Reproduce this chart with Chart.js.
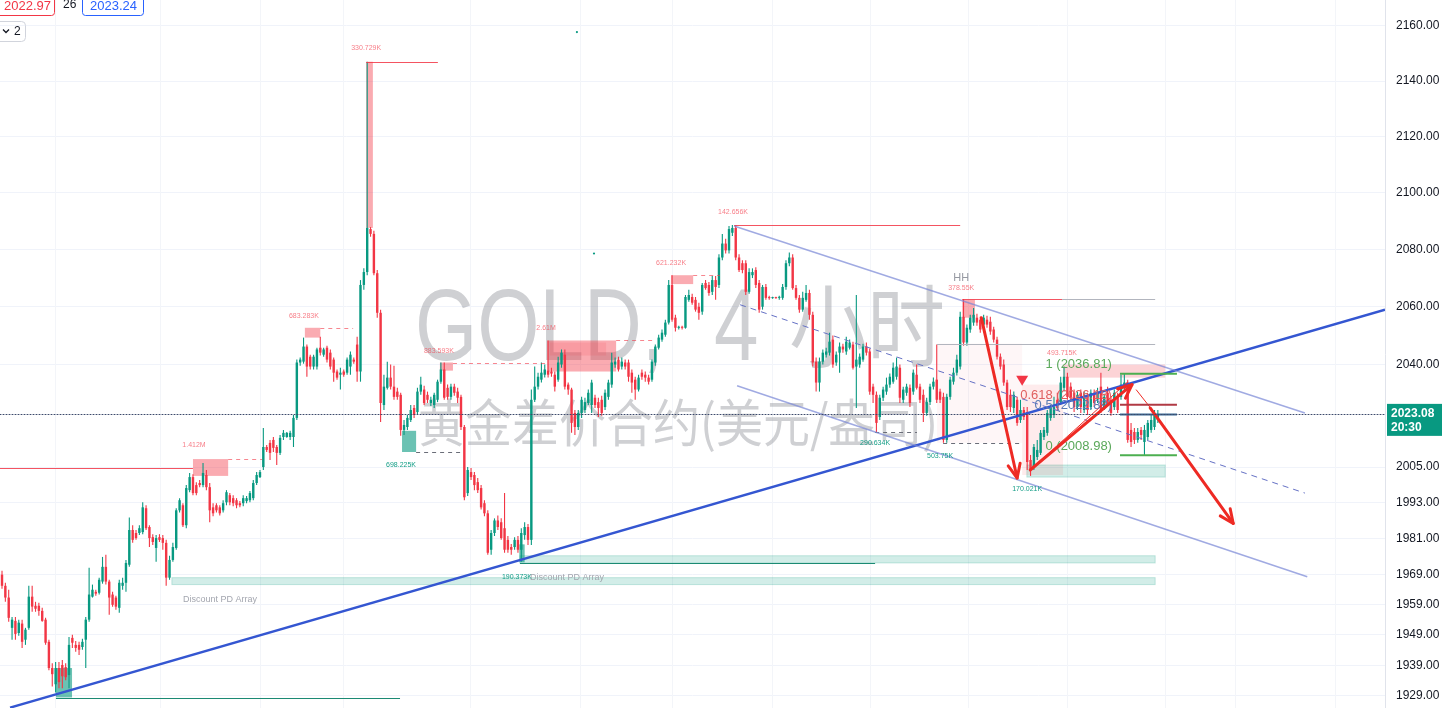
<!DOCTYPE html>
<html><head><meta charset="utf-8">
<script src="https://cdn.jsdelivr.net/npm/chart.js@4.4.1/dist/chart.umd.min.js"></script>
<style>html,body{margin:0;padding:0;background:#fff;overflow:hidden}#wrap{width:1448px;height:708px;position:relative}</style>
</head><body><div id="wrap"><canvas id="c"></canvas></div>
<script>
// ---------- DATA (4H candles, index = bar number) ----------
const opens = [
1968.9,1965.2,1961.3,1951.3,1953.6,1949.6,1952.7,1947.4,1951.3,1961.6,
1958.6,1958.6,1956.9,1954.0,1946.7,1938.1,1932.8,1938.1,1939.1,1938.4,
1935.8,1948.0,1945.7,1945.7,1945.0,1947.4,1954.0,1961.6,1963.2,1962.9,
1966.6,1971.5,1966.6,1962.3,1961.3,1957.9,1965.2,1966.2,1972.2,1983.8,
1982.8,1982.8,1983.1,1991.1,1984.8,1981.4,1977.8,1981.4,1981.1,1979.5,
1967.9,1973.8,1977.8,1990.4,1992.1,1985.4,1997.2,2001.6,1998.9,1999.6,
1998.9,2002.3,1998.2,1991.4,1992.1,1991.4,1990.4,1993.1,1995.5,1994.5,
1993.8,1992.8,1992.8,1993.5,1993.8,1994.5,1999.6,2001.6,2005.0,2011.8,
2013.2,2014.2,2011.8,2009.8,2015.2,2015.2,2015.2,2015.2,2021.7,2040.7,
2041.0,2046.2,2042.7,2039.3,2039.3,2045.8,2043.4,2045.8,2044.1,2041.7,
2037.6,2036.5,2037.6,2037.2,2039.3,2041.7,2046.9,2037.6,2067.6,2072.1,
2087.2,2085.5,2071.7,2057.9,2026.1,2032.0,2035.5,2032.4,2030.7,2029.6,
2017.6,2018.6,2021.0,2025.1,2023.7,2030.7,2031.4,2029.6,2026.8,2026.1,
2027.9,2034.1,2038.3,2032.0,2028.9,2032.4,2030.7,2028.9,2018.6,1996.2,
2003.3,2002.3,1999.9,1997.9,1992.8,1989.4,1977.2,1982.8,1987.0,1986.4,
1984.4,1980.5,1978.1,1978.1,1980.5,1977.2,1982.1,1984.8,1980.5,2027.9,
2032.4,2034.8,2036.5,2037.9,2037.6,2036.5,2034.8,2040.0,2043.4,2033.1,
2031.4,2023.4,2018.6,2023.4,2024.4,2026.8,2026.1,2028.6,2027.1,2027.9,
2025.4,2028.9,2033.1,2040.0,2041.7,2039.3,2040.7,2040.7,2037.2,2034.8,
2031.4,2037.2,2036.5,2035.5,2034.8,2040.7,2045.8,2048.6,2050.3,2054.5,
2067.6,2056.2,2052.7,2052.8,2052.7,2062.4,2063.4,2062.4,2060.0,2058.3,
2068.3,2067.6,2065.2,2069.3,2067.6,2077.2,2082.1,2079.7,2085.9,2087.6,
2077.2,2075.2,2075.2,2065.2,2071.0,2072.8,2068.3,2060.0,2066.9,2063.1,
2063.0,2063.1,2063.1,2063.1,2066.9,2075.2,2077.2,2066.5,2063.1,2059.0,
2062.4,2064.8,2057.2,2041.0,2033.8,2041.0,2043.4,2044.1,2048.6,2040.7,
2044.1,2046.2,2044.5,2045.8,2046.9,2039.3,2040.0,2041.7,2046.2,2044.5,
2032.4,2029.6,2022.0,2028.6,2030.7,2033.1,2034.1,2035.8,2038.9,2027.9,
2030.3,2032.0,2030.7,2036.5,2032.4,2029.6,2023.4,2027.1,2032.4,2034.8,
2030.7,2028.9,2014.2,2028.9,2034.1,2037.2,2039.3,2056.5,2047.6,2052.1,
2054.5,2056.2,2055.5,2053.8,2055.5,2054.8,2052.1,2048.6,2042.7,2040.0,
2033.8,2029.6,2025.1,2027.9,2021.0,2024.4,2023.7,2007.4,2005.0,2008.4,
2009.8,2015.2,2016.6,2021.7,2022.7,2027.9,2027.1,2032.0,2035.8,2032.4,
2030.3,2025.4,2030.3,2024.4,2028.9,2025.4,2030.3,2027.9,2032.4,2025.4,
2030.3,2027.9,2025.4,2028.9,2028.9,2032.0,2033.8,2017.6,2016.9,2014.2,
2017.6,2013.5,2015.2,2017.6,2018.6,2021.0];
const highs = [
1970.2,1966.2,1963.9,1954.9,1954.9,1954.0,1954.0,1951.3,1965.2,1965.2,
1959.9,1959.6,1957.9,1954.6,1947.4,1939.7,1940.1,1940.1,1940.7,1939.7,
1948.3,1949.0,1947.0,1946.7,1947.7,1954.9,1971.2,1965.6,1963.9,1967.9,
1974.8,1975.5,1967.2,1963.2,1961.9,1967.2,1967.9,1973.8,1988.0,1985.4,
1983.8,1985.4,1993.1,1992.1,1985.4,1982.4,1982.1,1982.4,1982.1,1980.5,
1975.2,1979.5,1991.1,1994.5,1992.8,1998.9,2003.0,2002.6,1999.9,2000.6,
2006.4,2004.0,1999.6,1992.8,1992.8,1992.1,1993.8,1997.2,1996.2,1995.5,
1994.5,1993.5,1995.5,1995.2,1996.9,2000.6,2003.3,2004.0,2018.3,2012.5,
2014.2,2015.2,2012.5,2015.9,2017.6,2016.9,2017.3,2022.7,2041.7,2042.4,
2049.3,2046.9,2043.4,2043.4,2045.8,2049.6,2045.8,2046.5,2045.2,2042.4,
2038.3,2038.9,2038.3,2042.4,2044.5,2042.4,2049.6,2069.3,2073.4,2147.0,
2087.9,2086.6,2072.8,2059.0,2036.5,2041.0,2040.0,2039.6,2032.0,2030.3,
2021.0,2022.7,2026.1,2026.1,2032.0,2035.8,2032.7,2030.7,2028.9,2030.3,
2034.8,2040.7,2040.7,2033.1,2033.4,2033.4,2032.0,2029.6,2019.3,2005.0,
2004.7,2003.3,2001.3,1998.9,1993.8,1990.4,1983.8,1987.7,1988.7,1987.7,
1996.2,1981.8,1979.1,1981.4,1981.8,1984.4,1986.4,1985.8,2031.4,2039.3,
2037.2,2040.7,2040.0,2048.3,2038.9,2037.6,2042.7,2045.2,2045.2,2033.8,
2032.0,2024.4,2024.4,2028.9,2028.6,2031.4,2034.8,2029.6,2028.6,2029.3,
2031.4,2034.8,2044.1,2042.4,2042.7,2042.4,2041.7,2041.7,2038.3,2035.8,
2036.5,2038.3,2037.6,2036.5,2041.7,2046.9,2050.3,2052.1,2055.5,2069.3,
2071.0,2057.2,2053.4,2053.4,2064.1,2065.9,2064.5,2063.4,2061.4,2068.3,
2069.3,2068.6,2070.7,2070.7,2078.3,2085.5,2083.8,2088.3,2088.6,2088.6,
2078.3,2076.2,2076.2,2073.4,2073.4,2073.8,2069.3,2067.6,2067.9,2063.8,
2063.5,2063.5,2063.8,2067.9,2076.2,2079.0,2078.3,2067.6,2064.1,2065.2,
2067.6,2065.9,2058.3,2042.4,2042.4,2045.2,2045.8,2051.0,2050.0,2044.5,
2047.6,2047.2,2049.6,2048.6,2047.9,2064.1,2043.8,2047.2,2047.6,2045.5,
2033.4,2030.7,2029.6,2032.4,2035.5,2036.9,2040.7,2042.4,2040.0,2032.4,
2033.4,2033.1,2038.3,2040.0,2033.4,2031.4,2028.6,2033.4,2035.5,2046.9,
2031.7,2030.3,2030.0,2035.8,2038.9,2043.4,2058.3,2062.7,2053.8,2057.2,
2059.6,2057.6,2056.5,2057.2,2056.9,2056.5,2053.1,2049.6,2043.8,2041.7,
2034.8,2031.4,2030.7,2028.9,2027.9,2025.4,2025.4,2009.1,2012.8,2014.2,
2017.6,2018.6,2024.4,2026.1,2028.9,2030.3,2035.8,2039.3,2037.2,2033.8,
2031.4,2030.7,2031.4,2030.7,2030.3,2031.4,2031.4,2032.0,2037.2,2030.0,
2032.4,2028.9,2031.4,2030.3,2036.5,2036.81,2034.8,2020.0,2018.3,2018.3,
2018.6,2019.3,2021.0,2022.7,2024.4,2024.4];
const lows = [
1964.2,1959.9,1953.3,1947.4,1947.4,1948.7,1944.7,1945.7,1950.7,1956.6,
1956.6,1955.3,1953.3,1945.7,1937.4,1932.1,1930.1,1931.5,1931.5,1934.1,
1931.5,1944.7,1943.4,1942.4,1944.1,1938.1,1953.3,1961.3,1961.9,1962.3,
1965.9,1965.6,1955.6,1958.3,1957.3,1956.3,1963.9,1963.2,1971.5,1979.5,
1980.5,1982.1,1982.4,1983.8,1978.1,1978.8,1973.2,1979.8,1977.2,1965.2,
1967.2,1973.2,1977.2,1989.7,1984.8,1984.4,1996.5,1995.5,1995.5,1998.2,
1998.2,1997.2,1986.4,1988.4,1989.7,1988.7,1989.7,1992.1,1992.1,1991.8,
1991.1,1991.4,1991.8,1992.8,1993.1,1993.8,1998.9,2001.3,2004.0,2010.1,
2007.4,2010.1,2005.7,2009.1,2014.2,2014.9,2014.2,2011.8,2021.0,2039.6,
2040.3,2035.8,2038.3,2038.3,2038.3,2043.1,2042.7,2040.7,2038.3,2034.1,
2034.8,2031.4,2035.8,2036.5,2036.5,2040.3,2034.1,2034.1,2065.9,2071.0,
2084.5,2071.0,2056.2,2020.3,2024.4,2031.4,2031.4,2027.9,2027.9,2015.6,
2015.9,2017.6,2020.3,2021.7,2023.0,2029.6,2026.1,2026.8,2025.8,2025.1,
2027.1,2033.4,2027.9,2027.9,2027.9,2029.3,2026.8,2017.6,1993.8,1995.2,
2000.6,1997.2,1996.2,1990.7,1988.4,1975.5,1975.5,1981.8,1983.8,1980.5,
1976.2,1976.2,1975.5,1977.2,1976.2,1973.2,1980.5,1978.8,1978.8,2027.1,
2031.4,2033.8,2035.5,2035.5,2035.8,2030.7,2034.1,2038.9,2031.4,2029.6,
2016.6,2015.9,2017.6,2021.7,2023.4,2026.1,2023.4,2025.1,2022.0,2022.4,
2024.4,2027.9,2032.0,2038.9,2037.6,2038.3,2038.3,2034.1,2030.3,2027.9,
2030.7,2034.8,2034.1,2033.1,2034.1,2039.6,2045.2,2047.9,2049.6,2053.8,
2054.8,2051.4,2052.1,2052.1,2052.4,2061.7,2060.7,2058.3,2055.5,2057.2,
2065.9,2063.8,2064.1,2062.4,2066.5,2076.2,2078.6,2078.6,2084.8,2076.2,
2072.1,2071.7,2064.1,2064.5,2070.0,2066.5,2057.9,2059.0,2062.4,2062.4,
2062.8,2062.8,2062.4,2062.4,2065.9,2074.1,2065.9,2062.4,2057.9,2058.3,
2061.7,2055.5,2039.3,2030.7,2030.7,2040.0,2042.4,2043.1,2038.9,2039.6,
2037.2,2044.1,2043.4,2045.2,2038.3,2025.1,2038.9,2041.0,2043.1,2029.6,
2026.8,2016.9,2021.0,2027.5,2029.6,2032.0,2033.4,2034.8,2026.8,2026.8,
2029.3,2025.4,2029.6,2031.4,2026.8,2020.3,2022.4,2026.1,2031.4,2026.8,
2026.8,2013.2,2013.2,2027.9,2033.1,2036.2,2038.3,2046.5,2046.5,2051.0,
2053.4,2053.4,2051.0,2052.7,2052.7,2050.3,2047.6,2041.7,2038.3,2032.7,
2024.4,2023.7,2023.4,2019.0,2020.0,2021.0,2004.0,2002.0,2004.0,2007.4,
2009.1,2014.2,2015.6,2020.7,2021.7,2024.1,2026.1,2030.7,2027.9,2027.5,
2023.7,2024.4,2023.4,2023.4,2022.7,2024.4,2025.4,2026.8,2023.4,2024.4,
2025.8,2022.4,2024.4,2023.4,2027.9,2031.0,2013.2,2011.8,2012.8,2013.2,
2014.2,2008.98,2014.2,2016.6,2017.6,2020.0];
const closes = [
1965.2,1961.3,1954.6,1954.0,1949.3,1953.0,1946.7,1950.7,1961.6,1958.3,
1957.6,1956.9,1953.6,1946.4,1938.1,1936.1,1938.1,1933.5,1935.4,1935.1,
1945.7,1946.4,1944.7,1944.1,1946.7,1954.0,1962.3,1963.9,1962.6,1967.2,
1971.5,1966.6,1961.3,1958.9,1958.3,1966.2,1966.2,1972.8,1983.8,1980.5,
1981.1,1984.4,1991.4,1984.4,1981.1,1979.8,1981.1,1980.5,1979.5,1967.9,
1973.8,1978.1,1990.4,1993.8,1985.4,1997.9,2001.6,1996.2,1996.2,1998.9,
2003.0,1998.2,1990.4,1989.4,1990.4,1989.4,1992.8,1996.5,1993.1,1992.8,
1992.1,1992.1,1994.5,1994.5,1996.2,1999.6,2002.3,2003.3,2011.8,2010.8,
2009.8,2011.5,2009.8,2014.9,2016.6,2016.6,2016.6,2021.7,2040.7,2041.7,
2046.2,2039.3,2039.3,2042.7,2045.2,2044.1,2045.2,2041.7,2039.3,2037.2,
2035.5,2037.2,2036.5,2041.7,2043.4,2041.0,2037.6,2067.6,2072.1,2087.6,
2085.5,2071.7,2057.9,2026.8,2032.4,2035.5,2032.4,2028.9,2028.9,2017.6,
2019.3,2021.7,2024.4,2022.7,2030.7,2033.1,2026.8,2027.9,2027.9,2029.6,
2034.1,2038.3,2028.6,2028.9,2032.4,2030.3,2028.6,2018.6,1994.8,2004.0,
2001.6,1998.9,1997.2,1991.4,1989.4,1976.2,1982.8,1987.0,1984.8,1981.1,
1977.2,1977.2,1977.2,1980.5,1977.2,1982.8,1984.8,1980.5,2027.9,2032.4,
2035.8,2037.2,2038.3,2036.5,2036.9,2032.4,2040.7,2044.1,2032.4,2031.4,
2020.0,2018.6,2023.4,2027.9,2027.1,2030.3,2033.8,2026.1,2025.1,2023.4,
2030.3,2033.8,2040.7,2041.0,2038.3,2041.0,2039.3,2035.8,2033.8,2031.4,
2035.5,2035.8,2035.5,2034.1,2041.0,2046.2,2049.3,2051.0,2054.5,2067.6,
2055.5,2052.7,2052.8,2052.7,2063.4,2064.1,2061.4,2059.0,2057.9,2067.6,
2066.5,2064.8,2069.3,2066.9,2077.2,2082.1,2079.7,2087.2,2087.6,2077.2,
2072.8,2072.8,2065.2,2072.1,2072.1,2067.6,2059.0,2066.9,2063.1,2063.0,
2063.2,2063.0,2063.1,2066.9,2075.2,2077.2,2066.5,2063.1,2059.0,2063.1,
2064.8,2057.2,2040.7,2033.8,2041.0,2044.1,2044.5,2047.9,2040.0,2043.4,
2046.2,2045.2,2047.9,2047.6,2038.9,2041.7,2042.7,2046.2,2044.1,2030.7,
2029.6,2020.0,2028.6,2031.4,2033.1,2035.8,2038.9,2039.3,2028.6,2031.4,
2032.4,2026.8,2037.2,2032.0,2027.9,2023.4,2027.1,2032.4,2034.1,2027.9,
2027.9,2014.2,2028.9,2034.8,2037.2,2041.7,2056.5,2047.6,2052.7,2056.2,
2057.2,2054.5,2052.1,2056.2,2053.8,2051.4,2048.6,2042.7,2039.3,2033.8,
2025.4,2025.4,2029.6,2020.0,2024.4,2022.0,2006.7,2004.0,2011.8,2010.8,
2016.6,2017.6,2023.4,2025.1,2025.4,2025.1,2033.8,2035.8,2028.9,2028.6,
2025.4,2029.6,2025.4,2029.6,2024.4,2030.3,2026.8,2030.7,2024.4,2028.9,
2026.8,2023.4,2030.3,2024.4,2033.1,2033.8,2014.2,2013.5,2014.2,2016.9,
2015.9,2017.6,2020.0,2021.0,2023.4,2023.08];

const yTickValues = [2160,2140,2120,2100,2080,2060,2040,2005,1993,1981,1969,1959,1949,1939,1929];
const lastPrice = 2023.08, lastTime = '20:30';
const bidText = '2022.97', spreadText = '26', askText = '2023.24', intervalBadge = '2';
const symbolTitle = ['GOLD,', '4', '小时'];
const symbolDesc = '黄金差价合约(美元/盎司)';

// ---------- DRAWINGS (bar index, price) ----------
const boxes = [
  [57.0, 67.5, 2007.7, 2002.0, 'pink'],
  [90.4, 95.0, 2052.7, 2049.3, 'pink'],
  [108.7, 110.7, 2147.0, 2087.6, 'pink'],
  [130.7, 134.6, 2040.7, 2037.9, 'pink'],
  [119.4, 123.6, 2017.3, 2010.1, 'teal'],
  [162.7, 183.3, 2048.3, 2037.6, 'pink'],
  [163.5, 180.3, 2047.6, 2043.1, 'pinkSoft'],
  [199.7, 206.3, 2071.0, 2067.9, 'pink'],
  [286.6, 290.4, 2062.4, 2056.2, 'pink'],
  [316.7, 347.2, 2040.0, 2035.5, 'pinkLight'],
  [154.4, 156.0, 1979.0, 1973.0, 'teal'],
  [16.1, 20.9, 1938.1, 1928.5, 'teal'],
  [305.9, 347.2, 2005.7, 2001.6, 'tealLight'],
  [50.7, 344.2, 1967.9, 1965.6, 'tealLight'],
  [154.6, 344.2, 1975.2, 1972.8, 'tealLight'],
  [304.5, 316.7, 2033.1, 2002.3, 'shade'],
  [279.1, 304.5, 2047.2, 2013.2, 'shadeFaint']
];
const hLines = [
  [-0.6, 57.0, 2004.7, 'red'],
  [108.7, 130.1, 2147.0, 'red'],
  [218.5, 286.0, 2088.6, 'red'],
  [286.6, 316.4, 2062.7, 'red'],
  [316.4, 344.2, 2062.7, 'gray'],
  [279.1, 344.2, 2047.2, 'gray'],
  [154.6, 260.6, 1972.8, 'tealLine'],
  [16.1, 118.8, 1928.2, 'tealLine'],
  [67.5, 77.6, 2007.7, 'redDash'],
  [95.0, 104.8, 2052.7, 'redDash'],
  [134.6, 162.7, 2040.7, 'redDash'],
  [183.3, 194.3, 2048.3, 'redDash'],
  [206.3, 214.3, 2071.0, 'redDash'],
  [123.6, 137.0, 2010.1, 'grayDash'],
  [260.6, 273.1, 2016.9, 'grayDash'],
  [280.9, 303.9, 2013.2, 'grayDash']
];
const trendLines = [
  [2.4, 1925.2, 412.8, 2059.0, 'trend'],
  [218.5, 2088.3, 388.9, 2023.4, 'channel'],
  [219.4, 2032.7, 389.6, 1968.2, 'channel'],
  [220.3, 2060.7, 388.9, 1996.2, 'channelMid'],
  [306.9, 2004.0, 336.0, 2034.0, 'thinRed'],
  [338.5, 2031.4, 343.3, 2024.4, 'thinRed']
];
const arrows = [
  [292.3, 2056.2, 303.0, 2001.3],
  [306.9, 2004.0, 337.3, 2033.1],
  [342.7, 2025.1, 367.5, 1986.0]
];
const fibLevels = [1, 0.618, 0.5, 0];
const fibPrices = [2036.81, 2026.18, 2022.89, 2008.98];
const fibSpan = [333.7, 350.7];
const fibLabelX = 331.3;
const textLabels = [
  ['1.412M', 57.3, 2012.5, 'pinkTxt'],
  ['683.283K', 90.1, 2056.9, 'pinkTxt'],
  ['330.729K', 108.7, 2152.0, 'pinkTxt'],
  ['883.593K', 130.4, 2044.5, 'pinkTxt'],
  ['698.225K', 119.1, 2005.7, 'greenTxt'],
  ['2.61M', 162.4, 2052.7, 'pinkTxt'],
  ['621.232K', 199.7, 2075.2, 'pinkTxt'],
  ['142.656K', 218.2, 2093.2, 'pinkTxt'],
  ['378.55K', 286.3, 2066.5, 'pinkTxt'],
  ['493.715K', 316.4, 2044.1, 'pinkTxt'],
  ['290.634K', 260.6, 2013.2, 'greenTxt'],
  ['503.75K', 280.0, 2008.8, 'greenTxt'],
  ['170.021K', 306.0, 1997.6, 'greenTxt'],
  ['190.373K', 153.7, 1968.2, 'greenTxt'],
  ['HH', 286.3, 2069.9, 'hhTxt']
];
const leftLabels = [
  ['Discount PD Array', 54.0, 1960.6],
  ['Discount PD Array', 157.6, 1967.9]
];
const markerTriangle = [304.5, 2034.4];
const dots = [[171.6, 2157.8], [176.7, 2078.6]];
const xGridIdx = [15.8, 47.2, 77.0, 101.8, 139.7, 172.5, 200.0, 229.9, 259.0, 288.4, 318.0, 347.0, 368.0, 398.0];

// ---------- STYLES ----------
const UP = '#089981', DOWN = '#f23645';
const STY = {
  pink: {fill: 'rgba(242,54,69,0.42)'},
  pinkSoft: {fill: 'rgba(242,54,69,0.14)'},
  pinkLight: {fill: 'rgba(242,54,69,0.22)'},
  teal: {fill: 'rgba(8,153,129,0.6)'},
  tealLight: {fill: 'rgba(8,153,129,0.18)', stroke: 'rgba(8,153,129,0.22)'},
  shade: {fill: 'rgba(242,54,69,0.10)'},
  shadeFaint: {fill: 'rgba(242,54,69,0.045)'},
  red: {stroke: 'rgba(242,54,69,0.85)', w: 1},
  gray: {stroke: '#b2b5be', w: 1},
  tealLine: {stroke: '#1b8a73', w: 1.2},
  redDash: {stroke: 'rgba(242,54,69,0.6)', w: 1, dash: [4, 4]},
  grayDash: {stroke: '#6a6d78', w: 1, dash: [4, 4]},
  trend: {stroke: '#3456d1', w: 2.5},
  channel: {stroke: 'rgba(120,134,214,0.7)', w: 1.5},
  channelMid: {stroke: '#6470c4', w: 1, dash: [6, 5]},
  thinRed: {stroke: '#ee2a24', w: 1},
  pinkTxt: {color: 'rgba(242,54,69,0.65)', font: '7px "Liberation Sans"'},
  greenTxt: {color: 'rgba(8,153,129,0.95)', font: '7px "Liberation Sans"'},
  hhTxt: {color: '#9598a1', font: '11px "Liberation Sans"'}
};
const fibColors = ['#4caf50', '#b03a44', '#3b6a96', '#4caf50'];
const fibTextColors = ['#5aa85a', '#e06060', '#5a7bb5', '#5aa85a'];

const overlay = {
  id: 'overlay',
  beforeDatasetsDraw(chart) {
    const {ctx, chartArea: ca} = chart;
    const px = v => chart.scales.x.getPixelForValue(v), py = v => chart.scales.y.getPixelForValue(v);
    ctx.save();
    ctx.beginPath(); ctx.rect(ca.left, ca.top, ca.right - ca.left, ca.bottom - ca.top); ctx.clip();
    ctx.strokeStyle = '#f3f5f9'; ctx.lineWidth = 1;
    xGridIdx.forEach(i => { const x = Math.round(px(i)) + 0.5; ctx.beginPath(); ctx.moveTo(x, ca.top); ctx.lineTo(x, ca.bottom); ctx.stroke(); });
    // watermark
    ctx.fillStyle = 'rgba(135,138,145,0.40)'; ctx.textBaseline = 'alphabetic'; ctx.textAlign = 'left';
    const wt = (t, x, y, font, sx, sy) => { ctx.save(); ctx.translate(x, y); ctx.scale(sx, sy); ctx.font = font; ctx.fillText(t, 0, 0); ctx.restore(); };
    wt(symbolTitle[0], 415, 360, '100px "Liberation Sans"', 0.8, 1.02);
    wt(symbolTitle[1], 714, 360, '100px "Liberation Sans"', 0.8, 1.02);
    wt(symbolTitle[2], 789, 360, '78px "Noto Sans CJK SC"', 1, 1.15);
    wt(symbolDesc, 418, 442, '47px "Noto Sans CJK SC"', 1, 1.1);
    // boxes
    boxes.forEach(([i1, i2, p1, p2, s]) => {
      const st = STY[s]; const x1 = px(i1), x2 = px(i2), y1 = py(p1), y2 = py(p2);
      ctx.fillStyle = st.fill; ctx.fillRect(x1, y1, x2 - x1, y2 - y1);
      if (st.stroke) { ctx.strokeStyle = st.stroke; ctx.lineWidth = 1; ctx.strokeRect(x1, y1, x2 - x1, y2 - y1); }
    });
    ctx.restore();
  },
  afterDatasetsDraw(chart) {
    const {ctx, chartArea: ca} = chart;
    const px = v => chart.scales.x.getPixelForValue(v), py = v => chart.scales.y.getPixelForValue(v);
    ctx.save();
    ctx.beginPath(); ctx.rect(ca.left, ca.top, ca.right - ca.left, ca.bottom - ca.top); ctx.clip();
    const seg = (x1, y1, x2, y2, st) => {
      ctx.strokeStyle = st.stroke; ctx.lineWidth = st.w; ctx.setLineDash(st.dash || []);
      ctx.beginPath(); ctx.moveTo(x1, y1); ctx.lineTo(x2, y2); ctx.stroke(); ctx.setLineDash([]);
    };
    hLines.forEach(([i1, i2, p, s]) => { const y = Math.round(py(p)) + 0.5; seg(px(i1), y, px(i2), y, STY[s]); });
    trendLines.forEach(([i1, p1, i2, p2, s]) => seg(px(i1), py(p1), px(i2), py(p2), STY[s]));
    // fib
    fibPrices.forEach((p, k) => {
      const y = py(p);
      seg(px(fibSpan[0]), y, px(fibSpan[1]), y, {stroke: fibColors[k], w: 2});
      ctx.fillStyle = fibTextColors[k]; ctx.font = '13px "Liberation Sans"'; ctx.textAlign = 'right'; ctx.textBaseline = 'middle';
      ctx.fillText(fibLevels[k] + ' (' + p.toFixed(2) + ')', px(fibLabelX), y - 9);
    });
    // labels
    textLabels.forEach(([t, i, p, s]) => {
      const st = STY[s]; ctx.fillStyle = st.color; ctx.font = st.font; ctx.textAlign = 'center'; ctx.textBaseline = 'middle';
      ctx.fillText(t, px(i), py(p));
    });
    leftLabels.forEach(([t, i, p]) => {
      ctx.fillStyle = '#a3a6af'; ctx.font = '9px "Liberation Sans"'; ctx.textAlign = 'left'; ctx.textBaseline = 'middle';
      ctx.fillText(t, px(i), py(p));
    });
    dots.forEach(([i, p]) => { ctx.fillStyle = UP; ctx.beginPath(); ctx.arc(px(i), py(p), 1.1, 0, Math.PI * 2); ctx.fill(); });
    // triangle marker
    { const x = px(markerTriangle[0]), y = py(markerTriangle[1]);
      ctx.fillStyle = '#f23645'; ctx.beginPath(); ctx.moveTo(x - 6, y - 5); ctx.lineTo(x + 6, y - 5); ctx.lineTo(x, y + 5); ctx.closePath(); ctx.fill(); }
    // arrows
    arrows.forEach(([i1, p1, i2, p2]) => {
      const x1 = px(i1), y1 = py(p1), x2 = px(i2), y2 = py(p2);
      const a = Math.atan2(y2 - y1, x2 - x1), h = 15;
      ctx.strokeStyle = '#ee2a24'; ctx.lineWidth = 3; ctx.lineCap = 'round'; ctx.lineJoin = 'round';
      ctx.beginPath(); ctx.moveTo(x1, y1); ctx.lineTo(x2, y2); ctx.stroke();
      ctx.beginPath();
      ctx.moveTo(x2 - h * Math.cos(a - 0.42), y2 - h * Math.sin(a - 0.42));
      ctx.lineTo(x2, y2);
      ctx.lineTo(x2 - h * Math.cos(a + 0.42), y2 - h * Math.sin(a + 0.42));
      ctx.stroke();
    });
    // last price dotted line
    { const y = Math.round(py(lastPrice)) + 0.5;
      ctx.strokeStyle = '#3c4a6b'; ctx.lineWidth = 1; ctx.setLineDash([1, 2]);
      ctx.beginPath(); ctx.moveTo(ca.left, y); ctx.lineTo(ca.right, y); ctx.stroke(); ctx.setLineDash([]); }
    ctx.restore();
  },
  afterDraw(chart) {
    const {ctx, chartArea: ca} = chart;
    const y = chart.scales.y.getPixelForValue(lastPrice);
    ctx.save();
    ctx.fillStyle = UP; ctx.fillRect(ca.right + 2, y - 10, 55, 32);
    ctx.fillStyle = '#fff'; ctx.font = 'bold 12px "Liberation Sans"'; ctx.textAlign = 'left'; ctx.textBaseline = 'middle';
    ctx.fillText(lastPrice.toFixed(2), ca.right + 6, y);
    ctx.fillText(lastTime, ca.right + 6, y + 14);
    // top-left quote boxes
    ctx.lineWidth = 1;
    ctx.strokeStyle = DOWN; ctx.beginPath(); ctx.roundRect(-5.5, -5.5, 60, 21, 3); ctx.stroke();
    ctx.strokeStyle = '#2962ff'; ctx.beginPath(); ctx.roundRect(82.5, -5.5, 61, 21, 3); ctx.stroke();
    ctx.font = '13px "Liberation Sans"'; ctx.textBaseline = 'middle';
    ctx.fillStyle = DOWN; ctx.fillText(bidText, 4, 6);
    ctx.fillStyle = '#131722'; ctx.font = '12px "Liberation Sans"'; ctx.fillText(spreadText, 63, 5);
    ctx.fillStyle = '#2962ff'; ctx.font = '13px "Liberation Sans"'; ctx.fillText(askText, 90, 6);
    ctx.strokeStyle = '#d1d4dc'; ctx.beginPath(); ctx.roundRect(-4.5, 21.5, 30, 20, 4); ctx.stroke();
    ctx.strokeStyle = '#131722'; ctx.lineWidth = 1.3; ctx.beginPath(); ctx.moveTo(3, 29.5); ctx.lineTo(6, 32.5); ctx.lineTo(9, 29.5); ctx.stroke();
    ctx.fillStyle = '#131722'; ctx.font = '12px "Liberation Sans"'; ctx.fillText(intervalBadge, 14, 32);
    ctx.restore();
  }
};

const colors = closes.map((c, i) => c >= opens[i] ? UP : DOWN);
new Chart(document.getElementById('c'), {
  type: 'bar',
  data: {
    datasets: [
      {label: 'body', data: closes.map((c, i) => ({x: i, y: [opens[i], c]})), backgroundColor: colors, borderWidth: 0, grouped: false, maxBarThickness: 2.8, minBarLength: 1, order: 0},
      {label: 'wick', data: closes.map((c, i) => ({x: i, y: [lows[i], highs[i]]})), backgroundColor: colors, borderWidth: 0, grouped: false, maxBarThickness: 1.1, order: 1}
    ]
  },
  options: {
    responsive: true, maintainAspectRatio: false, animation: false,
    layout: {padding: 0},
    plugins: {legend: {display: false}, tooltip: {enabled: false}},
    scales: {
      x: {type: 'linear', display: false, min: -0.6, max: 412.8, offset: false},
      y: {
        type: 'logarithmic', position: 'right', min: 1925.07, max: 2169.5,
        afterBuildTicks: s => { s.ticks = yTickValues.map(v => ({value: v})); },
        afterFit: s => { s.width = 63; s.paddingTop = 0; s.paddingBottom = 0; },
        grid: {color: '#f0f3fa', drawTicks: false},
        border: {display: true, color: '#e0e3eb'},
        ticks: {autoSkip: false, padding: 11, color: '#131722', font: {family: 'Liberation Sans', size: 12}, callback: v => Number(v).toFixed(2)}
      }
    }
  },
  plugins: [overlay]
});
</script>
</body></html>
